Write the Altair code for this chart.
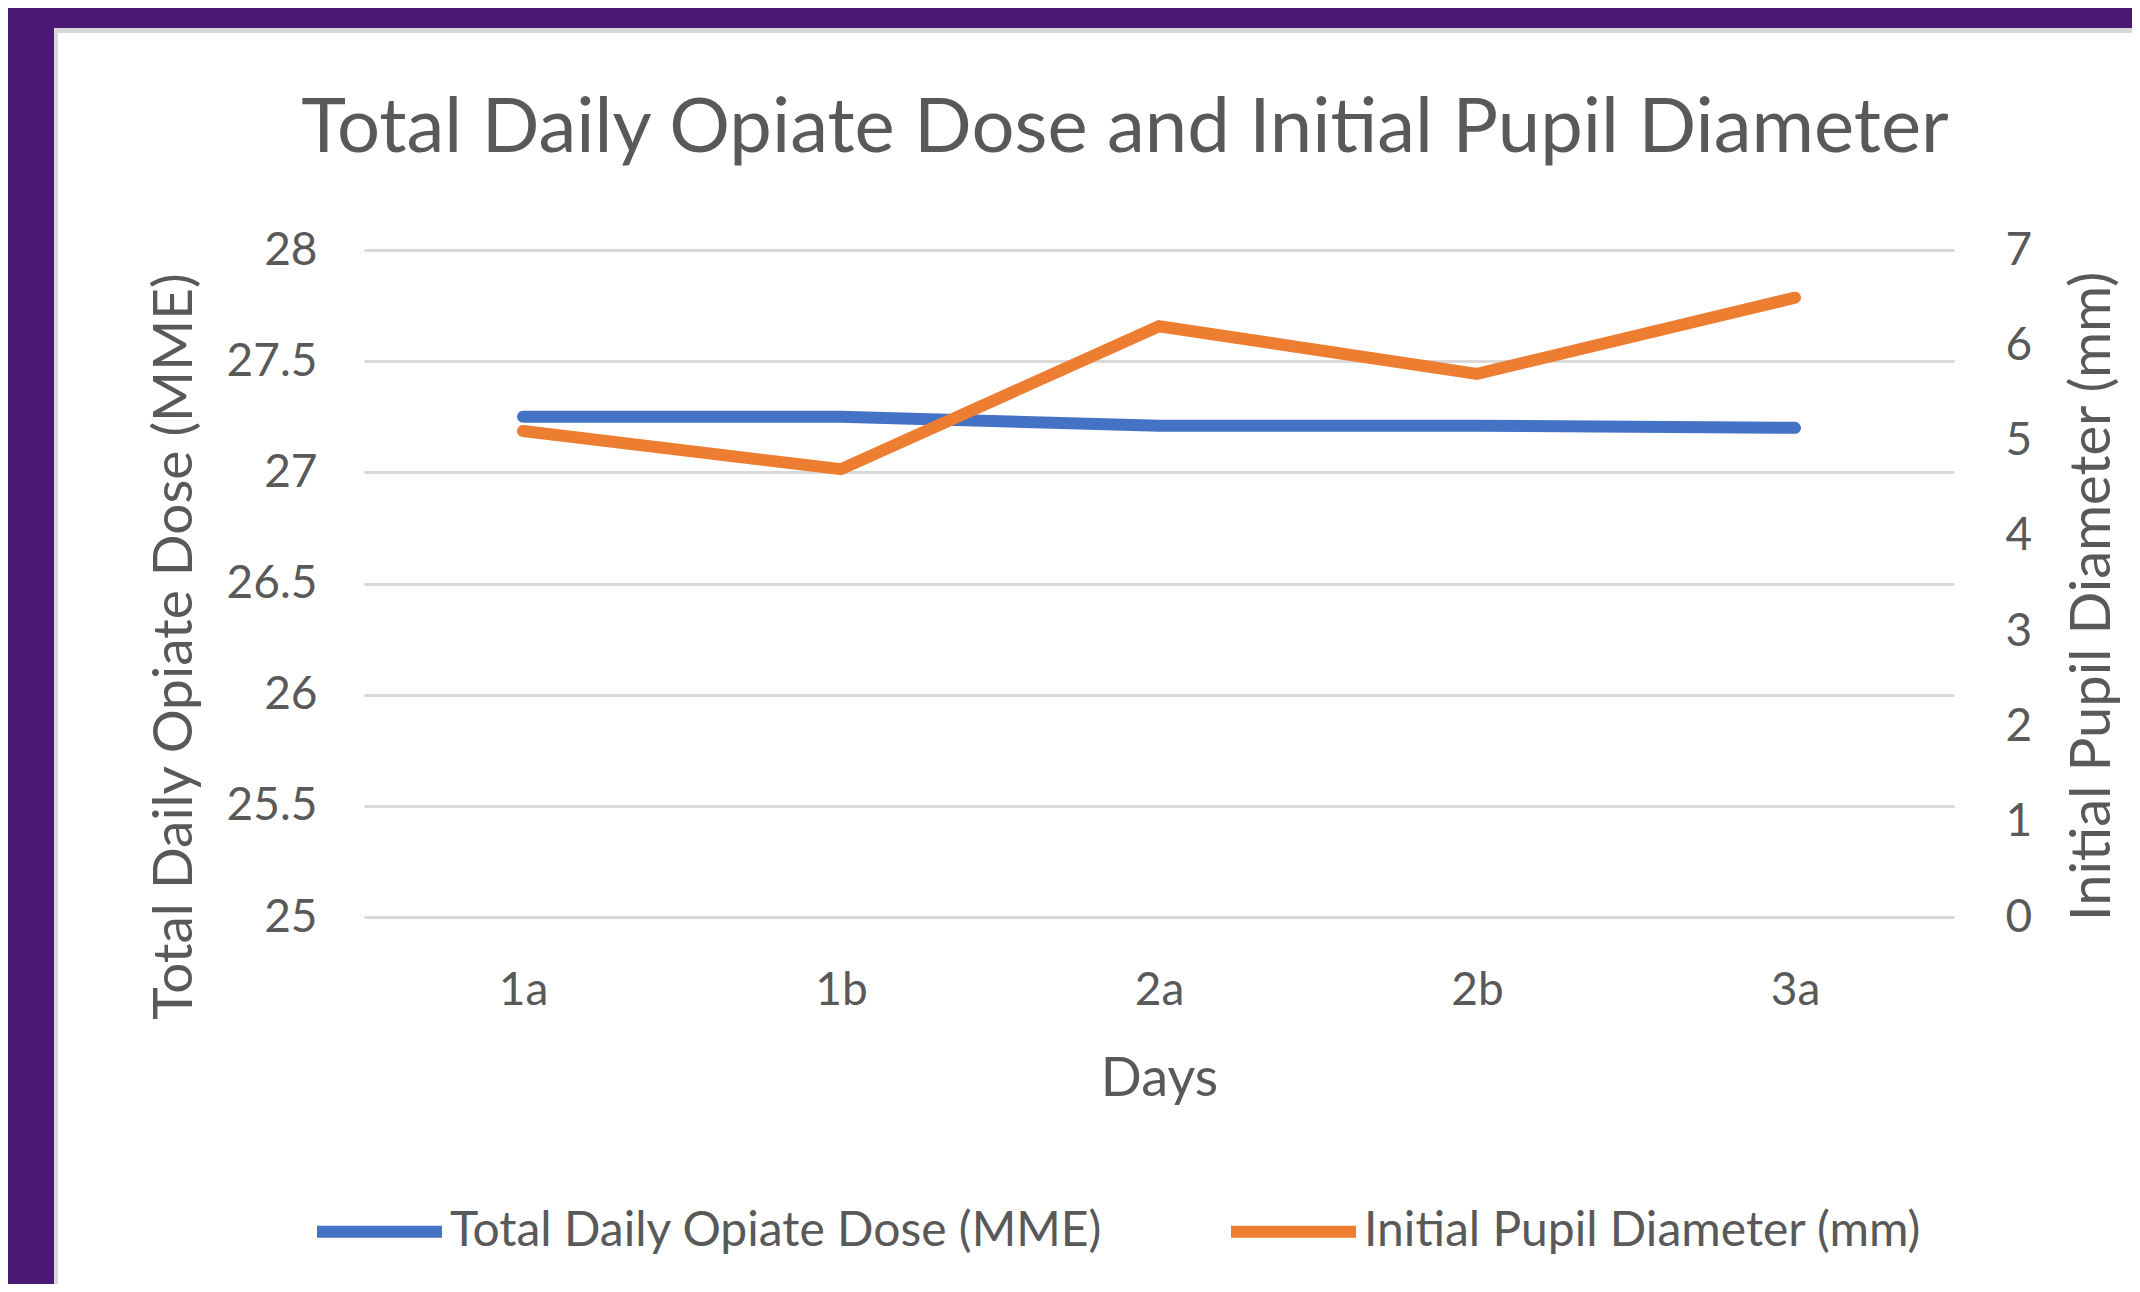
import altair as alt
import pandas as pd

# ---- data ----
days = ["1a", "1b", "2a", "2b", "3a"]
dose_mme = [27.25, 27.25, 27.21, 27.21, 27.20]
pupil_mm = [5.1, 4.7, 6.2, 5.7, 6.5]
series_names = ["Total Daily Opiate Dose (MME)", "Initial Pupil Diameter (mm)"]
series_colors = ["#4472C4", "#ED7D31"]
left_ticks = [25, 25.5, 26, 26.5, 27, 27.5, 28]
right_ticks = [0, 1, 2, 3, 4, 5, 6, 7]
chart_title = "Total Daily Opiate Dose and Initial Pupil Diameter"
x_title = "Days"

rows = []
for d, v in zip(days, dose_mme):
    rows.append({"day": d, "series": series_names[0], "value": v})
for d, v in zip(days, pupil_mm):
    rows.append({"day": d, "series": series_names[1], "value": v})
df = pd.DataFrame(rows)

# ---- layout constants ----
W, H = 1590, 667
PAD_L, PAD_T = 356, 242
PAD_R = 2124 - PAD_L - W
PAD_B = 1276 - PAD_T - H
OX, OY = 8 + PAD_L, 8 + PAD_T  # page position of plot origin
FONT = "Lato"
TXT = "#595959"
GRID = "#D9D9D9"
PURPLE = "#4B1973"

color = alt.Color(
    "series:N",
    scale=alt.Scale(domain=series_names, range=series_colors),
    legend=alt.Legend(
        title=None, orient="none", legendX=-53, legendY=913,
        direction="horizontal", symbolType="stroke", symbolSize=15625,
        symbolStrokeWidth=12, symbolOpacity=1, labelFontSize=48, labelFont=FONT,
        labelColor=TXT, labelOffset=2, columnPadding=104, padding=0, labelLimit=0,
    ),
)

x = alt.X(
    "day:N", sort=days, title=x_title,
    scale=alt.Scale(type="point", padding=0.5),
    axis=alt.Axis(
        labelAngle=0, labelFontSize=46, labelFont=FONT, labelColor=TXT,
        labelPadding=51, ticks=False, tickSize=0, domain=False, grid=False,
        titleFontSize=54, titleFont=FONT, titleColor=TXT, titleFontWeight="normal",
        titleY=178, titleBaseline="alphabetic",
    ),
)

y_left = alt.Y(
    "value:Q", title=series_names[0],
    scale=alt.Scale(domain=[25, 28], nice=False, zero=False),
    axis=alt.Axis(
        orient="left", values=left_ticks, format=".1~f", grid=True,
        gridColor=GRID, gridWidth=3, domain=False, ticks=False, tickSize=0,
        labelPadding=47, labelFontSize=46, labelFont=FONT, labelColor=TXT,
        titleFontSize=55, titleFont=FONT, titleColor=TXT, titleFontWeight="normal",
        titleAngle=270, titleX=-190, titleY=396, titleAlign="center",
        titleBaseline="middle",
    ),
)

y_right = alt.Y(
    "value:Q", title=series_names[1],
    scale=alt.Scale(domain=[0, 7], nice=False, zero=True),
    axis=alt.Axis(
        orient="right", values=right_ticks, format="d", grid=False,
        domain=False, ticks=False, tickSize=0,
        labelPadding=51, labelFontSize=46, labelFont=FONT, labelColor=TXT,
        titleFontSize=56, titleFont=FONT, titleColor=TXT, titleFontWeight="normal",
        titleAngle=270, titleX=138, titleY=346, titleAlign="center",
        titleBaseline="middle",
    ),
)

base = alt.Chart(df)
line_kw = dict(strokeWidth=12, strokeCap="round", strokeJoin="miter")

dose_line = base.transform_filter(
    alt.datum.series == series_names[0]
).mark_line(**line_kw).encode(x=x, y=y_left, color=color)

pupil_line = base.transform_filter(
    alt.datum.series == series_names[1]
).mark_line(**line_kw).encode(x=x, y=y_right, color=color)

# ---- slide frame decoration (purple border + thin grey edge) ----
frame = alt.Chart(alt.Data(values=[{}]))
purple_left = frame.mark_rect(color=PURPLE).encode(
    x=alt.value(-OX), x2=alt.value(54 - OX), y=alt.value(-OY), y2=alt.value(1292 - OY))
purple_top = frame.mark_rect(color=PURPLE).encode(
    x=alt.value(-OX), x2=alt.value(2140 - OX), y=alt.value(-OY), y2=alt.value(28 - OY))
grey_left = frame.mark_rect(color="#D9D9D9").encode(
    x=alt.value(54 - OX), x2=alt.value(58 - OX), y=alt.value(28 - OY), y2=alt.value(1292 - OY))
grey_top = frame.mark_rect(color="#D9D9D9").encode(
    x=alt.value(54 - OX), x2=alt.value(2140 - OX), y=alt.value(28 - OY), y2=alt.value(33 - OY))

title_text = alt.Chart(alt.Data(values=[{"t": chart_title}])).mark_text(
    font=FONT, fontSize=76, color=TXT, align="center", baseline="alphabetic"
).encode(text="t:N", x=alt.value(1125 - OX), y=alt.value(152 - OY))

lines = alt.layer(dose_line, pupil_line).resolve_scale(y="independent")

chart = alt.layer(
    purple_left, purple_top, grey_left, grey_top, title_text, lines
).properties(
    width=W, height=H,
    autosize=alt.AutoSizeParams(type="none"),
    padding={"left": PAD_L, "top": PAD_T, "right": PAD_R, "bottom": PAD_B},
    background="white",
).configure_view(stroke=None)

chart.save("out.html", embed_options={"renderer": "svg", "actions": False})
